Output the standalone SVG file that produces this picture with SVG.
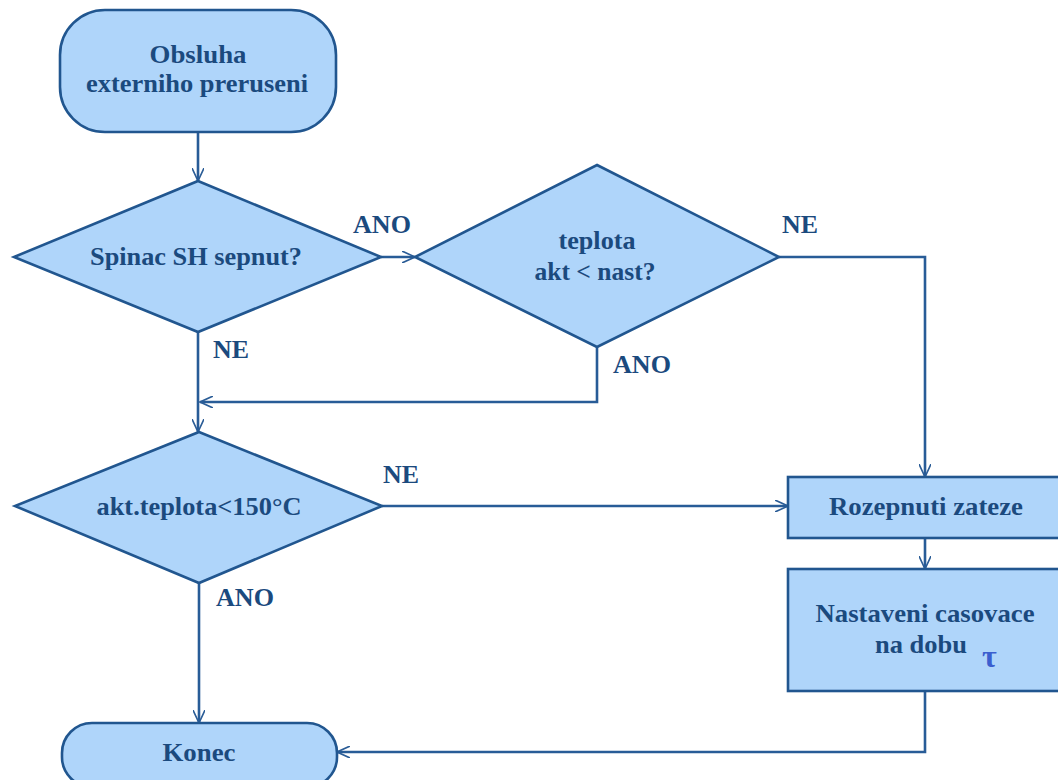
<svg xmlns="http://www.w3.org/2000/svg" width="1058" height="780" viewBox="0 0 1058 780">
<defs>
<marker id="arr" viewBox="0 0 14 12" refX="13" refY="6" markerWidth="14" markerHeight="12" orient="auto" markerUnits="userSpaceOnUse">
<path d="M0,0 L13,6 L0,12" fill="none" stroke="#2a5c96" stroke-width="1.6"/>
</marker>
</defs>
<style>
.shape{fill:#afd5fa;stroke:#21568f;stroke-width:2.6}
.conn{fill:none;stroke:#285c97;stroke-width:2.6;marker-end:url(#arr)}
text{font-family:"Liberation Serif","Times New Roman",serif;font-weight:bold;fill:#1b4a7e;font-size:26px}
.c{text-anchor:middle}
</style>
<rect width="1058" height="780" fill="#ffffff"/>
<g id="connectors">
<path class="conn" d="M198,132 V181"/>
<path class="conn" d="M381,257 H415"/>
<path class="conn" d="M779,257 H925 V477"/>
<path class="conn" d="M597,347 V402 H200"/>
<path class="conn" d="M198,332 V432"/>
<path class="conn" d="M382,506 H788"/>
<path class="conn" d="M199,583 V723"/>
<path class="conn" d="M925,538 V569"/>
<path class="conn" d="M925,691 V752 H337"/>
</g>
<g id="start">
<rect class="shape" x="60" y="10" width="276" height="122" rx="45" ry="45"/>
<text class="c" x="198" y="63" textLength="97" lengthAdjust="spacingAndGlyphs">Obsluha</text>
<text class="c" x="197" y="92" textLength="222" lengthAdjust="spacingAndGlyphs">externiho preruseni</text>
</g>
<g id="dec1">
<polygon class="shape" points="198,181 381,257 198,332 14,257"/>
<text class="c" x="196" y="265" textLength="212" lengthAdjust="spacingAndGlyphs">Spinac SH sepnut?</text>
</g>
<g id="dec2">
<polygon class="shape" points="597,165 779,257 597,347 415,257"/>
<text class="c" x="597" y="249" textLength="77" lengthAdjust="spacingAndGlyphs">teplota</text>
<text class="c" x="595" y="280" textLength="121" lengthAdjust="spacingAndGlyphs">akt &lt; nast?</text>
</g>
<g id="dec3">
<polygon class="shape" points="199,432 382,506 199,583 15,506"/>
<text class="c" x="199" y="515" textLength="205" lengthAdjust="spacingAndGlyphs">akt.teplota&lt;150°C</text>
</g>
<g id="box1">
<rect class="shape" x="788" y="477" width="290" height="61"/>
<text class="c" x="926" y="515" textLength="194" lengthAdjust="spacingAndGlyphs">Rozepnuti zateze</text>
</g>
<g id="box2">
<rect class="shape" x="788" y="569" width="290" height="122"/>
<text class="c" x="925" y="622" textLength="219" lengthAdjust="spacingAndGlyphs">Nastaveni casovace</text>
<text class="c" x="921" y="653" textLength="92" lengthAdjust="spacingAndGlyphs">na dobu</text>
<text x="982" y="667" style="fill:#3b5fcf;font-size:32px">τ</text>
</g>
<g id="end">
<rect class="shape" x="62" y="723" width="275" height="64" rx="30" ry="30"/>
<text class="c" x="199" y="761" textLength="73" lengthAdjust="spacingAndGlyphs">Konec</text>
</g>
<g id="labels">
<text x="353" y="233" textLength="58" lengthAdjust="spacingAndGlyphs">ANO</text>
<text x="782" y="233" textLength="36" lengthAdjust="spacingAndGlyphs">NE</text>
<text x="213" y="358" textLength="36" lengthAdjust="spacingAndGlyphs">NE</text>
<text x="613" y="373" textLength="58" lengthAdjust="spacingAndGlyphs">ANO</text>
<text x="383" y="483" textLength="36" lengthAdjust="spacingAndGlyphs">NE</text>
<text x="216" y="606" textLength="58" lengthAdjust="spacingAndGlyphs">ANO</text>
</g>
</svg>
